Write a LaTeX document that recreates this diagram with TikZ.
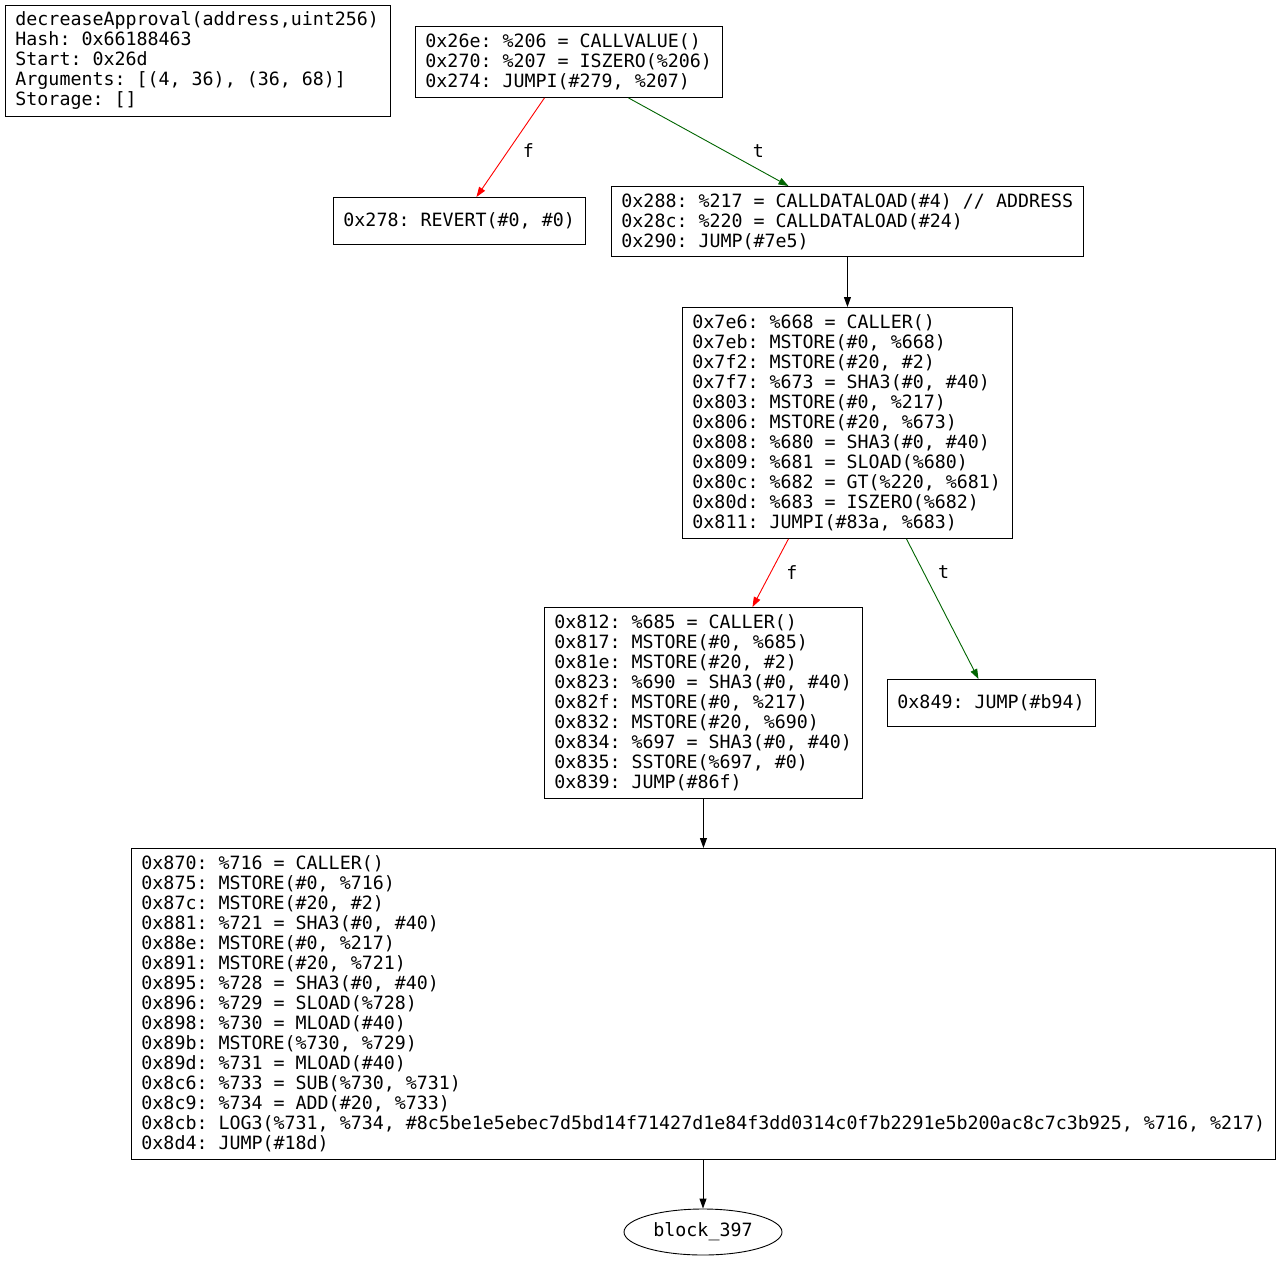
\documentclass[tikz,border=0pt]{standalone}
\usepackage{fontspec}
\setmainfont{DejaVu Sans Mono}
\usetikzlibrary{arrows.meta,shapes.geometric,calc}
\definecolor{gvgreen}{RGB}{0,100,0}
\newcommand{\gvfont}{\fontsize{18.3}{20}\selectfont\fontdimen2\font=11.02pt\fontdimen3\font=0pt\fontdimen4\font=0pt\fontdimen7\font=0pt\frenchspacing}
\begin{document}
\begin{tikzpicture}[x=1pt,y=-1pt,
  blk/.style={draw, line width=0.9pt, anchor=north west, align=left, inner xsep=10pt, inner ysep=0pt,
    font=\gvfont, execute at begin node={\spaceskip=11.02pt\relax\xspaceskip=11.02pt\relax}},
  edge/.style={line width=0.9pt, -{Triangle[length=10pt,width=7pt]}},
  lbl/.style={font=\gvfont, inner sep=0pt, text=black},
  fedge/.style={edge, red},
  tedge/.style={edge, gvgreen}]
\useasboundingbox (0,0) rectangle (1281,1263);

\node[blk, text width=365pt, minimum height=111pt] (info) at (5,5)
 {decreaseApproval(address,uint256)\\Hash: 0x66188463\\Start: 0x26d\\Arguments: [(4, 36), (36, 68)]\\Storage: []};

\node[blk, text width=287pt, minimum height=71pt] (b1) at (415,26)
 {0x26e: \%206 = CALLVALUE()\\0x270: \%207 = ISZERO(\%206)\\0x274: JUMPI(\#279, \%207)};

\node[blk, text width=232pt, minimum height=47pt] (rev) at (333,197)
 {0x278: REVERT(\#0, \#0)};

\node[blk, text width=452pt, minimum height=70pt] (b2) at (611,186)
 {0x288: \%217 = CALLDATALOAD(\#4) // ADDRESS\\0x28c: \%220 = CALLDATALOAD(\#24)\\0x290: JUMP(\#7e5)};

\node[blk, text width=310pt, minimum height=231pt] (b3) at (682,307)
 {0x7e6: \%668 = CALLER()\\0x7eb: MSTORE(\#0, \%668)\\0x7f2: MSTORE(\#20, \#2)\\0x7f7: \%673 = SHA3(\#0, \#40)\\0x803: MSTORE(\#0, \%217)\\0x806: MSTORE(\#20, \%673)\\0x808: \%680 = SHA3(\#0, \#40)\\0x809: \%681 = SLOAD(\%680)\\0x80c: \%682 = GT(\%220, \%681)\\0x80d: \%683 = ISZERO(\%682)\\0x811: JUMPI(\#83a, \%683)};

\node[blk, text width=298pt, minimum height=191pt] (b4) at (544,607)
 {0x812: \%685 = CALLER()\\0x817: MSTORE(\#0, \%685)\\0x81e: MSTORE(\#20, \#2)\\0x823: \%690 = SHA3(\#0, \#40)\\0x82f: MSTORE(\#0, \%217)\\0x832: MSTORE(\#20, \%690)\\0x834: \%697 = SHA3(\#0, \#40)\\0x835: SSTORE(\%697, \#0)\\0x839: JUMP(\#86f)};

\node[blk, text width=188pt, minimum height=47pt] (b5) at (887,679)
 {0x849: JUMP(\#b94)};

\node[blk, text width=1124pt, minimum height=311pt] (b6) at (131,848)
 {0x870: \%716 = CALLER()\\0x875: MSTORE(\#0, \%716)\\0x87c: MSTORE(\#20, \#2)\\0x881: \%721 = SHA3(\#0, \#40)\\0x88e: MSTORE(\#0, \%217)\\0x891: MSTORE(\#20, \%721)\\0x895: \%728 = SHA3(\#0, \#40)\\0x896: \%729 = SLOAD(\%728)\\0x898: \%730 = MLOAD(\#40)\\0x89b: MSTORE(\%730, \%729)\\0x89d: \%731 = MLOAD(\#40)\\0x8c6: \%733 = SUB(\%730, \%731)\\0x8c9: \%734 = ADD(\#20, \%733)\\0x8cb: LOG3(\%731, \%734, \#8c5be1e5ebec7d5bd14f71427d1e84f3dd0314c0f7b2291e5b200ac8c7c3b925, \%716, \%217)\\0x8d4: JUMP(\#18d)};

\node[draw, line width=0.9pt, ellipse, minimum width=158pt, minimum height=46pt, inner sep=0pt,
  font=\gvfont] (blk397) at (703,1232) {block\_397};

\draw[fedge] ([xshift=-24.5pt]b1.south) -- ([xshift=17pt]rev.north)
  node[lbl, pos=0.53, xshift=20pt] {f};
\draw[tedge] ([xshift=59.5pt]b1.south) -- ([xshift=-59pt]b2.north)
  node[lbl, pos=0.6, xshift=34pt] {t};
\draw[edge] (b2.south) -- (b3.north);
\draw[fedge] ([xshift=-59pt]b3.south) -- ([xshift=49pt]b4.north)
  node[lbl, pos=0.49, xshift=21pt] {f};
\draw[tedge] ([xshift=59pt]b3.south) -- ([xshift=-13pt]b5.north)
  node[lbl, pos=0.24, xshift=20pt] {t};
\draw[edge] (b4.south) -- (b4.south |- b6.north);
\draw[edge] (b6.south -| blk397.north) -- (blk397.north);
\end{tikzpicture}
\end{document}
